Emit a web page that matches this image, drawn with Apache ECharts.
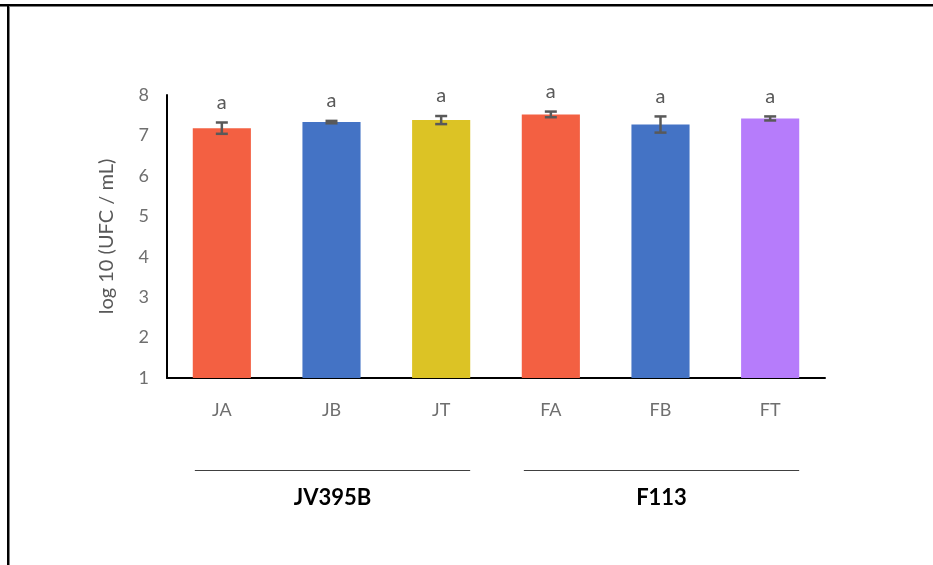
<!DOCTYPE html>
<html>
<head>
<meta charset="utf-8">
<script src="https://cdn.jsdelivr.net/npm/echarts@6/dist/echarts.min.js"></script>
<style>
  html, body { margin: 0; padding: 0; background: #fff; }
  #main { width: 933px; height: 565px; }
</style>
</head>
<body>
<div id="main"></div>
<script>
// data
const categories = ['JA', 'JB', 'JT', 'FA', 'FB', 'FT']
const means = [7.18, 7.33, 7.38, 7.52, 7.27, 7.42]
const errors = [0.14, 0.03, 0.10, 0.07, 0.20, 0.05]
const letters = ['a', 'a', 'a', 'a', 'a', 'a']
const barColors = ['#F36042', '#4473C5', '#DCC325', '#F36042', '#4473C5', '#B67CFB']
const groups = ['JV395B', 'F113']
const groupSpans = [[0, 2], [3, 5]]

const font = 'Lato, "Open Sans", sans-serif'
const myChart = echarts.init(document.getElementById('main'))

myChart.setOption({
  animation: false,
  grid: { left: 167, right: 108, top: 95, bottom: 187 },
  xAxis: {
    type: 'category',
    data: categories,
    axisTick: { show: false },
    axisLine: { lineStyle: { color: '#000', width: 2 } },
    axisLabel: { color: '#6f6f6f', fontSize: 18, fontFamily: font, margin: 23 }
  },
  yAxis: {
    type: 'value',
    min: 1,
    max: 8,
    interval: 1,
    name: 'log 10 (UFC / mL)',
    nameLocation: 'middle',
    nameGap: 50,
    nameTextStyle: { color: '#595959', fontSize: 20, fontFamily: font },
    splitLine: { show: false },
    axisTick: { show: false },
    axisLine: { show: true, lineStyle: { color: '#000', width: 2 } },
    axisLabel: { color: '#6f6f6f', fontSize: 18, fontFamily: font, margin: 18 }
  },
  series: [{
    type: 'bar',
    barWidth: '53%',
    data: means.map((v, i) => ({ value: v, itemStyle: { color: barColors[i] } }))
  }, {
    type: 'custom',
    z: 10,
    data: means.map((v, i) => [i, v, errors[i]]),
    renderItem: function (params, api) {
      const x = api.value(0)
      const top = api.coord([x, api.value(1) + api.value(2)])
      const bot = api.coord([x, api.value(1) - api.value(2)])
      const cap = 6
      const st = { stroke: '#595959', lineWidth: 2.5 }
      return {
        type: 'group',
        children: [
          { type: 'line', shape: { x1: top[0], y1: top[1], x2: bot[0], y2: bot[1] }, style: st },
          { type: 'line', shape: { x1: top[0] - cap, y1: top[1], x2: top[0] + cap, y2: top[1] }, style: st },
          { type: 'line', shape: { x1: bot[0] - cap, y1: bot[1], x2: bot[0] + cap, y2: bot[1] }, style: st },
          {
            type: 'text',
            x: top[0],
            y: top[1] - 20,
            style: {
              text: letters[params.dataIndex],
              fill: '#595959',
              font: '20px ' + font,
              align: 'center',
              verticalAlign: 'middle'
            }
          }
        ]
      }
    }
  }]
})

// group brackets under the category labels, placed from the axis scale
const groupGraphics = []
groupSpans.forEach((span, g) => {
  const x1 = myChart.convertToPixel({ xAxisIndex: 0 }, span[0]) - 27
  const x2 = myChart.convertToPixel({ xAxisIndex: 0 }, span[1]) + 29
  groupGraphics.push({
    type: 'line',
    shape: { x1: x1, y1: 470.5, x2: x2, y2: 470.5 },
    style: { stroke: '#404040', lineWidth: 1.2 }
  })
  groupGraphics.push({
    type: 'text',
    x: (x1 + x2) / 2,
    y: 498,
    style: {
      text: groups[g],
      fill: '#000',
      font: 'bold 22px ' + font,
      align: 'center',
      verticalAlign: 'middle'
    }
  })
})

// outer frame (only top and left edges are visible in the picture)
groupGraphics.push({ type: 'rect', shape: { x: 0, y: 4, width: 933, height: 2 }, style: { fill: '#000' } })
groupGraphics.push({ type: 'rect', shape: { x: 0, y: 6, width: 933, height: 1 }, style: { fill: '#808080' } })
groupGraphics.push({ type: 'rect', shape: { x: 7, y: 4, width: 2, height: 561 }, style: { fill: '#000' } })
groupGraphics.push({ type: 'rect', shape: { x: 9, y: 6, width: 1, height: 559 }, style: { fill: '#808080' } })

myChart.setOption({ graphic: groupGraphics })
</script>
</body>
</html>
